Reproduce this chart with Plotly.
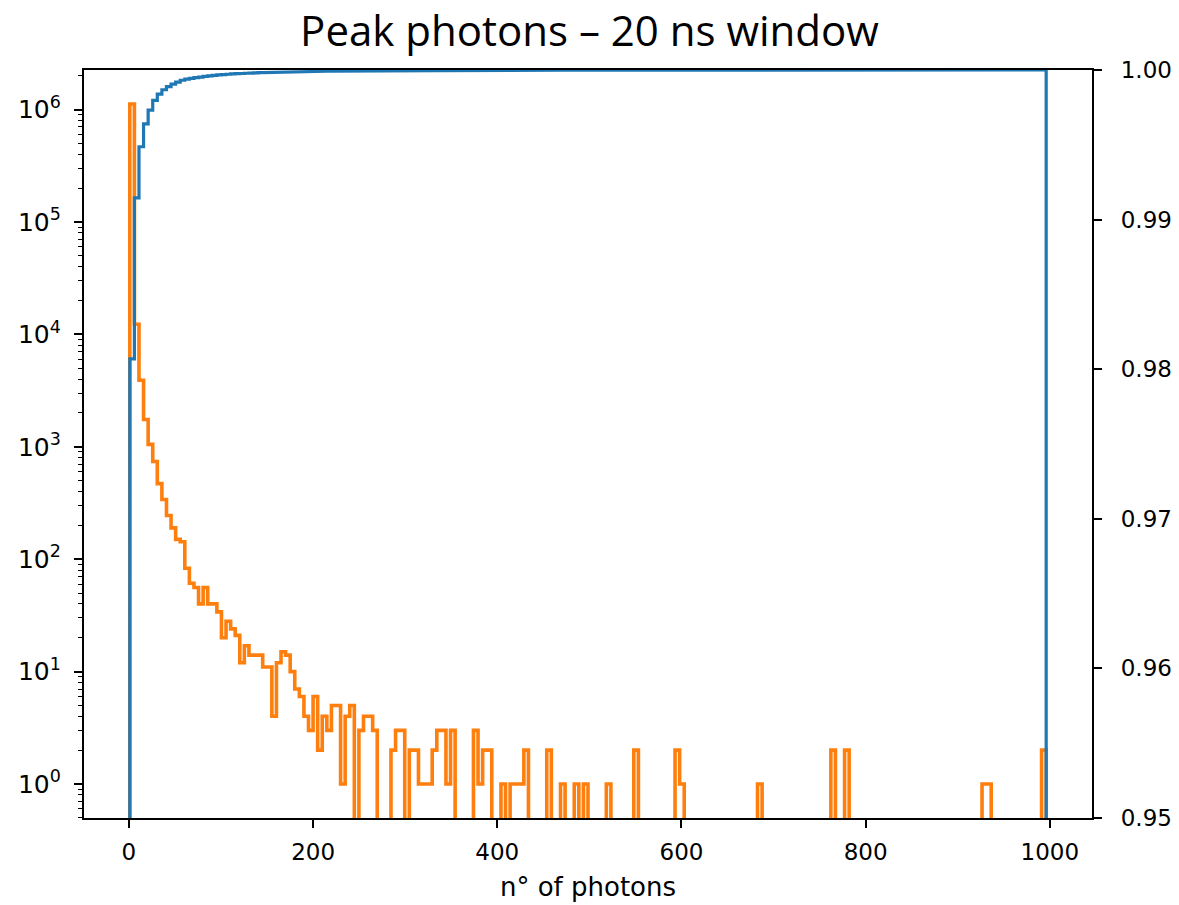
import numpy as np
import plotly.graph_objects as go

# ---------------- data ----------------
TITLE = "Peak photons – 20 ns window"
X_LABEL = "n° of photons"

# histogram binning (200 bins between min and max photon count)
X_MIN, X_MAX, N_BINS = 1, 996, 200

# counts per bin
counts = [
    1120000, 12300, 3900, 1750, 1050, 740, 470, 340, 245, 190,   # 0-9
    150, 143, 83, 61, 56, 40, 56, 40, 40, 34,                    # 10-19
    20, 28, 24, 21, 12, 17, 14, 14, 14, 11,                      # 20-29
    11, 4, 12, 15, 14, 10, 7, 6, 4, 3,                           # 30-39
    6, 2, 4, 3, 5, 5, 1, 4, 5, 0,                                # 40-49
    3, 4, 4, 3, 0, 0, 0, 2, 3, 3,                                # 50-59
    0, 2, 2, 1, 1, 1, 2, 3, 3, 1,                                # 60-69
    3, 0, 0, 0, 0, 3, 1, 2, 2, 0,                                # 70-79
    0, 1, 0, 1, 1, 1, 2, 0, 0, 0,                                # 80-89
    0, 2, 0, 0, 1, 0, 0, 1, 0, 1,                                # 90-99
    0, 0, 0, 0, 1, 0, 0, 0, 0, 0,                                # 100-109
    2, 0, 0, 0, 0, 0, 0, 0, 0, 2,                                # 110-119
    1, 0, 0, 0, 0, 0, 0, 0, 0, 0,                                # 120-129
    0, 0, 0, 0, 0, 0, 0, 1, 0, 0,                                # 130-139
    0, 0, 0, 0, 0, 0, 0, 0, 0, 0,                                # 140-149
    0, 0, 0, 2, 0, 0, 2, 0, 0, 0,                                # 150-159
    0, 0, 0, 0, 0, 0, 0, 0, 0, 0,                                # 160-169
    0, 0, 0, 0, 0, 0, 0, 0, 0, 0,                                # 170-179
    0, 0, 0, 0, 0, 0, 1, 1, 0, 0,                                # 180-189
    0, 0, 0, 0, 0, 0, 0, 0, 0, 2,                                # 190-199
]

x_ticks = [0, 200, 400, 600, 800, 1000]
y_ticks = [1, 10, 100, 1000, 10000, 100000, 1000000]
y_ticktext = ["10<sup>%d</sup>" % i for i in range(7)]
y2_ticks = [0.95, 0.96, 0.97, 0.98, 0.99, 1.00]
y2_range = [0.95, 1.00]

# ---------------- derived (as a histogram routine would) ----------------
counts = np.array(counts, dtype=float)
edges = np.linspace(X_MIN, X_MAX, N_BINS + 1)
cumul = np.cumsum(counts) / counts.sum()

def step_outline(vals, floor):
    xs = np.repeat(edges, 2)
    ys = np.concatenate([[floor], np.repeat(vals, 2), [floor]])
    return xs, ys

BOTTOM_LOG = 1e-3  # below the visible log range, clipped like -inf
xo, yo = step_outline(np.where(counts > 0, counts, BOTTOM_LOG), BOTTOM_LOG)
xb, yb = step_outline(cumul, 0.0)

span = X_MAX - X_MIN
x_range = [X_MIN - 0.05 * span, X_MAX + 0.05 * span]
pos = counts[counts > 0]
lmin, lmax = np.log10(pos.min()), np.log10(pos.max())
lspan = lmax - lmin
y_range = [lmin - 0.05 * lspan, lmax + 0.05 * lspan]

minor_vals = [m * 10.0 ** k for k in range(-1, 7) for m in range(2, 10)]

BLUE = "#1f77b4"
ORANGE = "#ff7f0e"
FONT = "DejaVu Sans"
TICK_SIZE = 23

fig = go.Figure()
fig.add_trace(go.Scatter(x=xo, y=yo, mode="lines", yaxis="y",
                         line=dict(color=ORANGE, width=3.6),
                         hoverinfo="skip", showlegend=False))
fig.add_trace(go.Scatter(x=xb, y=yb, mode="lines", yaxis="y2",
                         line=dict(color=BLUE, width=3.2),
                         hoverinfo="skip", showlegend=False))

axis_common = dict(showgrid=False, zeroline=False, showline=True,
                   linecolor="black", linewidth=2.2, ticks="outside",
                   ticklen=8, tickwidth=2, tickcolor="black",
                   automargin=False)

fig.update_layout(
    width=1179, height=905,
    paper_bgcolor="white", plot_bgcolor="white",
    margin=dict(l=84, r=87, t=70, b=87),
    title=dict(text=TITLE, x=0.5, xanchor="center", xref="container",
               y=1 - 31 / 905, yanchor="middle", yref="container",
               font=dict(family="Open Sans", size=42, color="black")),
    xaxis=dict(range=x_range, tickvals=x_ticks, mirror=True,
               ticklabelstandoff=4,
               tickfont=dict(family=FONT, size=TICK_SIZE, color="black"),
               title=dict(text=X_LABEL, standoff=14,
                          font=dict(family=FONT, size=26, color="black")),
               **axis_common),
    yaxis=dict(type="log", range=y_range, tickvals=y_ticks,
               ticktext=y_ticktext, mirror=True, ticklabelstandoff=8,
               tickfont=dict(family=FONT, size=25, color="black"),
               minor=dict(tickmode="array", tickvals=minor_vals,
                          ticks="outside", ticklen=4, tickwidth=1.3,
                          tickcolor="black", showgrid=False),
               **axis_common),
    yaxis2=dict(overlaying="y", side="right", range=y2_range,
                tickvals=y2_ticks, tickformat=".2f", ticklabelstandoff=14,
                tickfont=dict(family=FONT, size=TICK_SIZE, color="black"),
                **axis_common),
)

fig.write_html("out.html")
